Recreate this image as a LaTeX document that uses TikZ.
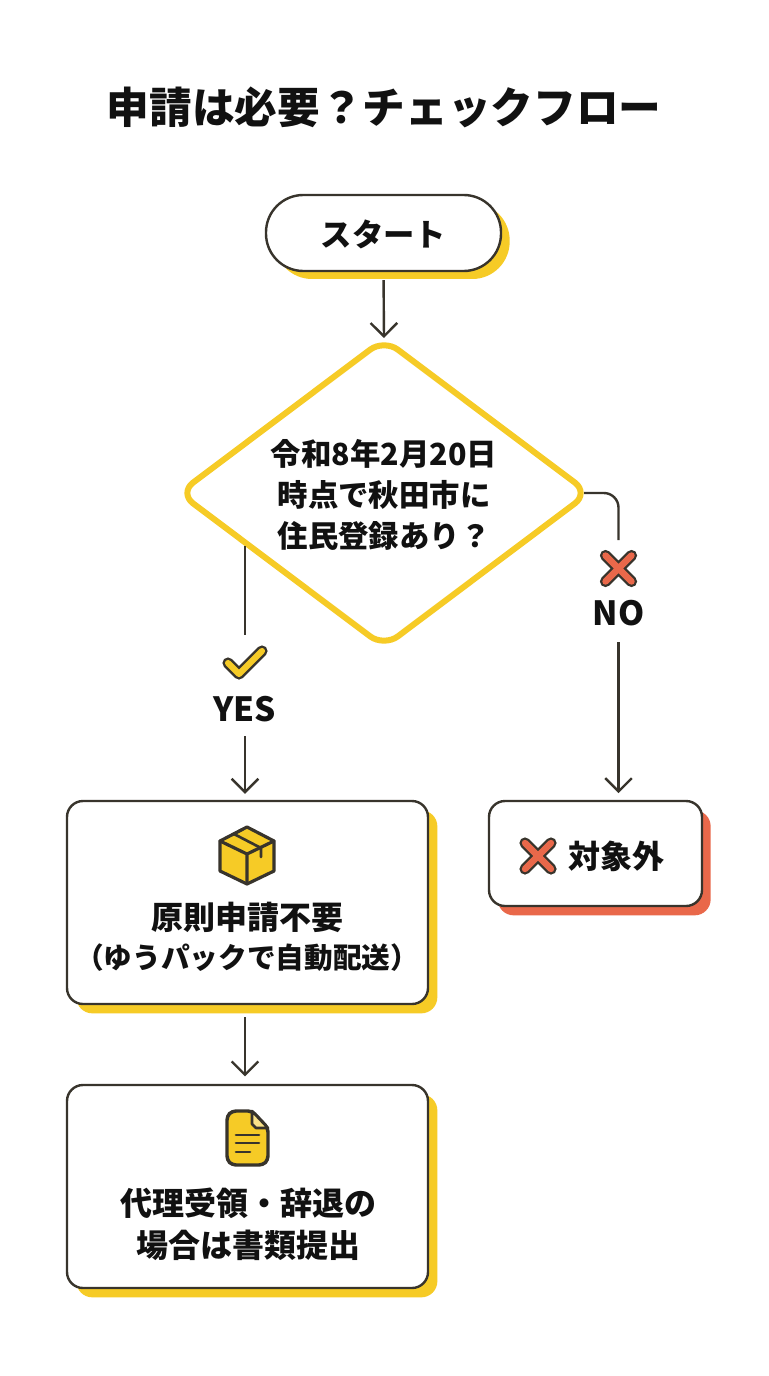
\documentclass[tikz,border=0pt]{standalone}
\usepackage{fontspec}
\setmainfont{Noto Sans CJK JP}
\usetikzlibrary{arrows.meta,shapes.geometric,shadows,calc}
\definecolor{yel}{HTML}{F6CB26}
\definecolor{ora}{HTML}{E9684A}
\definecolor{ink}{HTML}{38342C}
\definecolor{txt}{HTML}{111111}
\tikzset{
  x=0.75pt,y=-0.75pt,
  wordbase/.style={inner sep=0pt,text=txt,font=\bfseries\fontsize{23.5pt}{31pt}\selectfont,align=center},
  boxbase/.style={draw=ink,line width=1.8pt,fill=white,inner sep=0pt,rounded corners=12pt},
  yelbox/.style={boxbase,minimum width=270.75pt,minimum height=152.25pt,
    drop shadow={shadow xshift=7pt,shadow yshift=-7pt,fill=yel,opacity=1}},
  orabox/.style={boxbase,minimum width=159.75pt,minimum height=78.75pt,
    drop shadow={shadow xshift=6.5pt,shadow yshift=-7pt,fill=ora,opacity=1}},
  conn/.style={draw=ink,line width=1.8pt},
  arrowline/.style={conn,-{Straight Barb[length=10pt,width=20pt]}},
  icoline/.style={draw=ink,line width=2pt,line join=round,line cap=round},
}
\begin{document}
\begin{tikzpicture}
\useasboundingbox (0,0) rectangle (768,1376);
\fill[white] (0,0) rectangle (768,1376);

\node[wordbase,font=\bfseries\fontsize{32pt}{36pt}\selectfont] (title) at (384,107) {申請は必要？チェックフロー};

\node[boxbase,rounded corners=28pt,minimum width=176.25pt,minimum height=57pt,
  drop shadow={shadow xshift=6.5pt,shadow yshift=-6pt,fill=yel,opacity=1}] (start) at (383.5,233) {};
\node[wordbase] (starttext) at (383.5,234) {スタート};

\node[diamond,draw=yel,line width=4.5pt,fill=white,inner sep=0pt,aspect=1.33,rounded corners=13pt,
  minimum width=309pt,minimum height=232.5pt] (dec) at (384,493) {};
\node[wordbase,font=\bfseries\fontsize{22.8pt}{31pt}\selectfont] (dectext) at (384,495) {令和8年2月20日\\時点で秋田市に\\住民登録あり？};

\node[yelbox] (box1) at (247.5,902.5) {};
\node[wordbase,font=\bfseries\fontsize{24pt}{31pt}\selectfont] (box1a) at (247,917) {原則申請不要};
\node[wordbase,font=\bfseries\fontsize{21.5pt}{31pt}\selectfont] (box1b) at (247,958) {（ゆうパックで自動配送）};

\node[yelbox] (box2) at (247.5,1186.5) {};
\node[wordbase,font=\bfseries\fontsize{24pt}{31.5pt}\selectfont] (box2t) at (248,1224) {代理受領・辞退の\\場合は書類提出};

\node[orabox] (box3) at (595.5,853.5) {};
\node[wordbase,font=\bfseries\fontsize{24pt}{31pt}\selectfont] (box3t) at (616,856) {対象外};

\node[wordbase,font=\bfseries\fontsize{25pt}{30pt}\selectfont] (yes) at (244.5,709) {YES};
\node[wordbase,font=\bfseries\fontsize{25pt}{30pt}\selectfont] (no) at (618.5,613) {NO};

% connector ends
\coordinate (dectop) at (384,338);
\coordinate (decleft) at (245,546);
\coordinate (decright) at (584,493);
\coordinate (yesup) at (245,635);
\coordinate (yesdown) at (245,736);
\coordinate (noup) at (618.5,540);
\coordinate (nodown) at (618.5,642);

\draw[arrowline,shorten <=6pt] (start.south) -- (dectop);
\draw[conn] (decleft) -- (yesup);
\draw[arrowline,shorten >=4.5pt] (yesdown) -- (yesdown |- box1.north);
\draw[conn,rounded corners=11pt] (decright) -- (decright -| noup) -- (noup);
\draw[arrowline,shorten >=5pt] (nodown) -- (nodown |- box3.north);
\draw[arrowline,shorten <=9pt,shorten >=5.5pt] ($(box1.south)+(-2.5,0)$) -- ($(box2.north)+(-2.5,0)$);

% check icon
\draw[ink,line width=8.4pt,line cap=round,line join=round] (228,663) -- (239,674) -- (262,651);
\draw[yel,line width=4.6pt,line cap=round,line join=round] (228,663) -- (239,674) -- (262,651);

% cross icons
\foreach \cx/\cy in {618.5/568.5,538/856}{
  \draw[ink,line width=8.4pt,line cap=round] (\cx-13,\cy-13) -- (\cx+13,\cy+13) (\cx-13,\cy+13) -- (\cx+13,\cy-13);
  \draw[ora,line width=4.8pt,line cap=round] (\cx-13,\cy-13) -- (\cx+13,\cy+13) (\cx-13,\cy+13) -- (\cx+13,\cy-13);
}

% parcel icon
\draw[icoline,fill=yel,line width=2.4pt] (247,827) -- (274,841) -- (274,871) -- (247,884) -- (220,871) -- (220,841) -- cycle;
\draw[icoline,line width=2.4pt] (220,841) -- (247,854) -- (274,841) (247,854) -- (247,884);
\draw[icoline] (234,834) -- (261,848) -- (261,857) (243,829) -- (232,835);

% document icon
\draw[icoline,fill=yel,line width=2.6pt,rounded corners=3pt] (252,1111) -- (232,1111) -- (227,1116) -- (227,1160) -- (232,1165) -- (263,1165) -- (268,1160) -- (268,1128) -- cycle;
\draw[icoline,fill=yel!55!white,line width=2pt] (252,1111) -- (252,1124) -- (256,1128) -- (268,1128) -- cycle;
\draw[icoline] (236,1135) -- (259,1135) (236,1143) -- (259,1143) (236,1152) -- (250,1152);
\end{tikzpicture}
\end{document}
